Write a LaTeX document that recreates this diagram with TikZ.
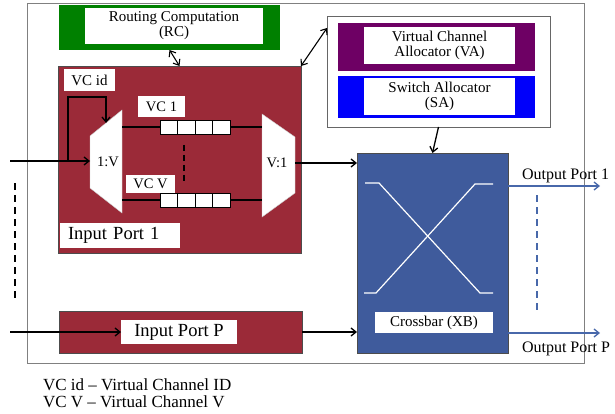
\documentclass[tikz,border=0pt]{standalone}
\usepackage{fontspec}
\setmainfont{Liberation Serif}
\usetikzlibrary{positioning,arrows.meta}

\definecolor{rcgreen}{RGB}{0,128,0}
\definecolor{portred}{RGB}{155,42,56}
\definecolor{vapurple}{RGB}{110,0,100}
\definecolor{sablue}{RGB}{0,0,250}
\definecolor{xbblue}{RGB}{63,91,156}
\definecolor{outblue}{RGB}{72,104,170}

\begin{document}
\begin{tikzpicture}[
  x=1pt, y=-1pt,
  font=\fontsize{15}{15}\selectfont,
  blk/.style={inner sep=0pt, outer sep=0pt},
  lbl/.style={fill=white, inner sep=0pt, outer sep=0pt, align=center},
  big/.style={font=\fontsize{18.5}{19}\selectfont},
  buf/.style={draw, fill=white, line width=0.8pt, minimum width=17.5pt, minimum height=14pt, inner sep=0pt, outer sep=0pt},
  mux/.style={fill=white, draw=gray!40, line width=0.4pt},
  wire/.style={line width=1.3pt},
  arr/.style={-{Straight Barb[length=5pt,width=8pt]}, line width=1.3pt},
  darr/.style={{Straight Barb[length=5pt,width=8pt]}-{Straight Barb[length=5pt,width=8pt]}, line width=1.1pt},
  oarr/.style={-{Straight Barb[length=5pt,width=8pt]}, line width=1.3pt, draw=outblue},
  dots/.style={dash pattern=on 7pt off 5pt, line width=1.6pt}
]
\useasboundingbox (0,0) rectangle (615,414);

% --- router frame ---
\node[blk, draw=gray, line width=0.8pt, minimum width=557pt, minimum height=360pt] (router) at (305.5,183) {};

% --- routing computation ---
\node[blk, fill=rcgreen, minimum width=221pt, minimum height=45pt] (rc) at (169.5,27.5) {};
\node[lbl, minimum width=178pt, minimum height=36pt] (rctxt) at (174,26) {Routing Computation\\(RC)};

% --- input port 1 ---
\node[blk, fill=portred, draw=black!70, line width=0.5pt, minimum width=243pt, minimum height=187pt] (ip1) at (179.5,159.5) {};
\node[lbl, big, minimum width=120pt, minimum height=25pt, text width=104pt, align=left] (ip1txt) at (120,235.5) {Input Port 1};

\node[lbl, minimum width=51pt, minimum height=22pt] (vcid) at (89.5,80) {VC id};
\node[lbl, minimum width=47pt, minimum height=21pt, font=\fontsize{14.5}{15}\selectfont] (vc1) at (161.5,106.5) {VC 1};
\node[lbl, minimum width=49pt, minimum height=18pt, font=\fontsize{14.5}{15}\selectfont] (vcv) at (150.5,184) {VC V};

% demux and mux
\draw[mux] (90,136) -- (122,110) coordinate (d2) -- (122,213) -- (90,188) -- cycle;
\node[blk, font=\fontsize{14.5}{15}\selectfont] (demux) at (108,162) {1:V};
\draw[mux] (262,114) coordinate (m1) -- (295,137) coordinate (m2) -- (295,193) -- (262,217) -- cycle;
\node[blk, font=\fontsize{14.5}{15}\selectfont] (vmux) at (277,163) {V:1};

% VC buffers
\foreach \i in {1,...,4} {
  \node[buf] (ba\i) at (151.25+17.5*\i,127) {};
  \node[buf] (bv\i) at (151.25+17.5*\i,200) {};
}
\draw[wire] (d2 |- ba1.west) -- (ba1.west);
\draw[wire] (ba4.east) -- (m1 |- ba4.east);
\draw[wire] (d2 |- bv1.west) -- (bv1.west);
\draw[wire] (bv4.east) -- (m1 |- bv4.east);
\draw[dots, dash pattern=on 6pt off 4pt] (184,145) -- (184,184);

% flit in, VC id feedback
\coordinate (in1) at (10,161);
\coordinate (br) at (68,161);
\coordinate (dmw) at (90,161);
\coordinate (dmt) at (106,123);
\draw[arr] (in1) -- (dmw);
\draw[arr] (br) -- ++(0,-64) -| (dmt);

% --- allocators ---
\node[blk, draw=gray!80!black, fill=white, line width=0.6pt, minimum width=223pt, minimum height=111pt] (alloc) at (438.5,71.5) {};
\node[blk, fill=vapurple, minimum width=197pt, minimum height=48pt] (va) at (436.5,47) {};
\node[lbl, minimum width=151pt, minimum height=37pt] (vatxt) at (439.5,45.5) {Virtual Channel\\Allocator (VA)};
\node[blk, fill=sablue, minimum width=197pt, minimum height=42pt] (sa) at (436.5,97) {};
\node[lbl, minimum width=151pt, minimum height=37pt] (satxt) at (439.5,96.5) {Switch Allocator\\(SA)};

% --- crossbar ---
\node[blk, fill=xbblue, draw=gray!60!black, line width=0.5pt, minimum width=151pt, minimum height=200pt] (xb) at (432.5,253) {};
\draw[white, line width=1.2pt] (365,183) -- (379,183) -- (480,293) -- (493,293);
\draw[white, line width=1.2pt] (364,293) -- (376,293) -- (475,184) -- (493,184);
\node[lbl, minimum width=118pt, minimum height=21pt] (xbtxt) at (434,322.5) {Crossbar (XB)};

\draw[darr] (rc.south) -- (ip1.north);
\draw[darr] (ip1.north east) -- ([yshift=-12pt]alloc.north west);
\draw[arr] (alloc.south) -- (xb.north);
\draw[arr] (m2 |- vmux) -- (xb.west |- vmux);

% --- input port P ---
\node[blk, fill=portred, draw=black!70, line width=0.5pt, minimum width=243pt, minimum height=42pt] (ipP) at (180.5,332) {};
\node[lbl, big, minimum width=116pt, minimum height=24pt] (ipPtxt) at (179,332) {Input Port P};
\coordinate (inP) at (10,332);
\draw[arr] (inP) -- (ipPtxt.west);
\draw[arr] (ipP.east) -- (xb.west |- ipP.east);
\draw[dots] (15,183) -- (15,299);

% --- output ports ---
\coordinate (out1) at (600,186);
\coordinate (outP) at (600,333);
\draw[oarr] (xb.east |- out1) -- (out1);
\draw[oarr] (xb.east |- outP) -- (outP);
\node[blk, anchor=base west, font=\fontsize{16}{16}\selectfont] (out1txt) at (522,179) {Output Port 1};
\node[blk, anchor=base west, font=\fontsize{16}{16}\selectfont] (outPtxt) at (522,352) {Output Port P};
\draw[dots, draw=outblue, line width=1.4pt] (537,195) -- (537,311);

% --- legend ---
\node[blk, anchor=base west, font=\fontsize{17}{17}\selectfont] (legid) at (43,390) {VC id -- Virtual Channel ID};
\node[blk, anchor=base west, font=\fontsize{17}{17}\selectfont] (legvc) at (43,407) {VC V -- Virtual Channel V};

\end{tikzpicture}
\end{document}
